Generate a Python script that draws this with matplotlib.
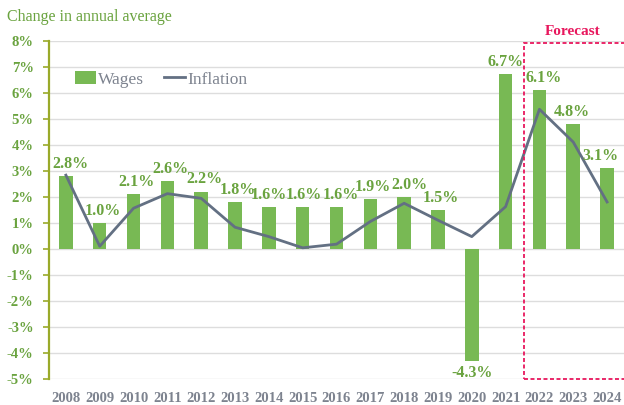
import matplotlib.pyplot as plt
from matplotlib.patches import Rectangle, Patch
from matplotlib.lines import Line2D

years = [str(y) for y in range(2008, 2025)]
wages = [2.8, 1.0, 2.1, 2.6, 2.2, 1.8, 1.6, 1.6, 1.6, 1.9, 2.0, 1.5, -4.3, 6.7, 6.1, 4.8, 3.1]
inflation = [2.83, 0.1, 1.56, 2.12, 1.94, 0.83, 0.47, 0.04, 0.18, 1.05, 1.75, 1.1, 0.47, 1.62, 5.36, 4.1, 1.8]
forecast_years = ["2022", "2023", "2024"]
y_ticks = list(range(-5, 9))

GREEN_BAR = "#78b954"
GREEN_TXT = "#6aa33f"
SLATE = "#637083"
GRAY_TXT = "#7d838f"
PINK = "#e8175d"
SPINE = "#9aaa2a"

plt.rcParams["font.family"] = ["Liberation Serif", "DejaVu Serif"]

fig = plt.figure(figsize=(6.24, 4.05), dpi=100)
ax = fig.add_axes([0.0785, 0.064, 0.9215, 0.836])

x = list(range(len(years)))
ax.bar(x, wages, width=0.4, color=GREEN_BAR, zorder=2)
ax.plot(x, inflation, color=SLATE, lw=2.0, zorder=3)

ax.set_xlim(-0.5, len(years) - 0.5)
ax.set_ylim(-5, 8)
ax.set_yticks(y_ticks)
ax.set_yticklabels([f"{t}%" for t in y_ticks])
ax.set_xticks(x)
ax.set_xticklabels(years)

ax.grid(axis="y", color="#dddddd", lw=1.0, zorder=0)
ax.set_axisbelow(True)
for s in ["top", "right", "bottom"]:
    ax.spines[s].set_visible(False)
ax.spines["left"].set_color(SPINE)
ax.spines["left"].set_linewidth(1.6)

ax.tick_params(axis="y", length=4, width=1.2, color=SPINE, pad=7,
               labelsize=10.5, labelcolor=GREEN_TXT)
ax.tick_params(axis="x", length=0, pad=9, labelsize=10.5, labelcolor=GRAY_TXT)
for lab in ax.get_yticklabels() + ax.get_xticklabels():
    lab.set_fontweight("bold")

# value labels, nudged sideways where neighbours or the forecast frame crowd them
nudge = {"2008": 3, "2014": 0, "2015": 1, "2016": 3, "2018": 4,
         "2021": 0, "2022": 3, "2023": -1, "2024": -5}
for i, v in enumerate(wages):
    dx = nudge.get(years[i], 2)
    if v >= 0:
        ax.annotate(f"{v:.1f}%", (i, v), xytext=(dx, 3), textcoords="offset points",
                    ha="center", va="bottom", fontsize=11.5, fontweight="bold",
                    color=GREEN_TXT, zorder=4)
    else:
        ax.annotate(f"{v:.1f}%", (i, v), xytext=(0, -3), textcoords="offset points",
                    ha="center", va="top", fontsize=11.5, fontweight="bold",
                    color=GREEN_TXT, zorder=4)

# forecast window
fx0 = years.index(forecast_years[0]) - 0.45
box = Rectangle((fx0, -5), len(years) - 0.5 - fx0 + 0.1, 12.9, fill=False,
                edgecolor=PINK, lw=1.3, ls=(0, (2.2, 1.4)), zorder=5, clip_on=False)
ax.add_patch(box)
ax.text(0.918, 0.921, "Forecast", transform=fig.transFigure, ha="center", va="center",
        fontsize=11, fontweight="bold", color=PINK)

fig.text(0.011, 0.957, "Change in annual average", ha="left", va="center",
         fontsize=11.5, color=GREEN_TXT)

handles = [Patch(facecolor=GREEN_BAR, edgecolor="none"),
           Line2D([0], [0], color=SLATE, lw=2)]
leg = ax.legend(handles, ["Wages", "Inflation"], loc="upper left",
                bbox_to_anchor=(0.018, 0.955), ncol=2, frameon=False,
                fontsize=12.5, handlelength=1.2, handletextpad=0.1,
                columnspacing=1.2)
for t in leg.get_texts():
    t.set_color(GRAY_TXT)

fig.savefig("out.png", dpi=100)
